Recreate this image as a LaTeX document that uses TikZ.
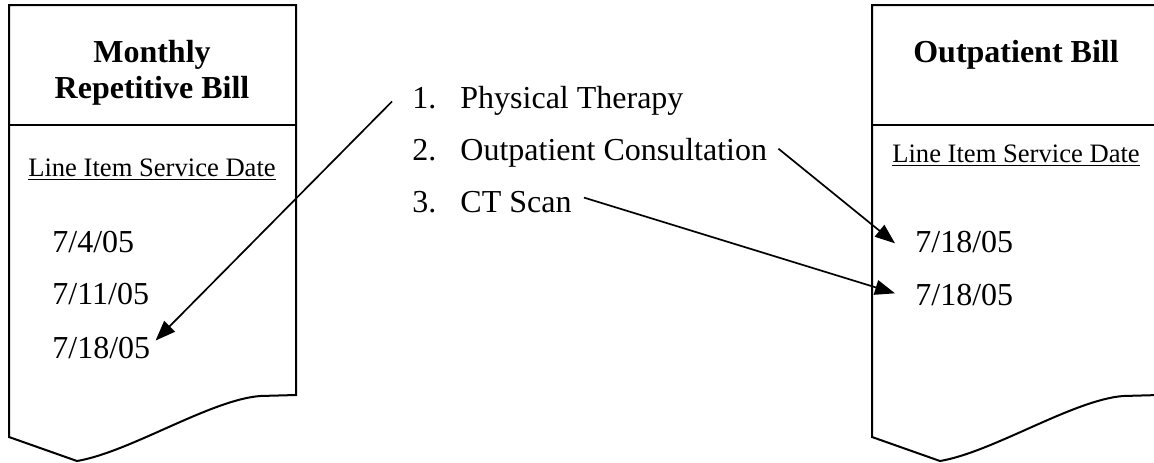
\documentclass[tikz,border=0pt]{standalone}
\usepackage{fontspec}
\setmainfont{Liberation Serif}
\usepackage{tikz}
\usetikzlibrary{arrows.meta,calc,positioning}

\begin{document}
\begin{tikzpicture}[
		x=0.5pt, y=-0.5pt,
		bill/.style={line width=1pt, line join=miter},
		billtitle/.style={font=\fontsize{16pt}{18pt}\selectfont\bfseries, align=center, inner sep=0pt},
		billhead/.style={font=\fontsize{13.3pt}{15pt}\selectfont, inner sep=0pt, anchor=base},
		datetext/.style={font=\fontsize{16pt}{18pt}\selectfont, inner sep=0pt, anchor=base west},
		link/.style={-{Triangle[length=10pt,width=7.5pt]}, line width=0.85pt}
		]
		
		\useasboundingbox (0,0) rectangle (1154,462);
		\clip (0,0) rectangle (1154,462);
		
		% Les deux factures (forme document)
		\foreach \dx in {0,863}{
			\begin{scope}[shift={(\dx,0)}]
				\draw[bill] (9,437) -- (9,5) -- (296,5) -- (296,395) -- (260,396)
				.. controls (210,400) and (130,452) .. (77,461) -- cycle;
				\draw[bill] (9,125) -- (296,125);
			\end{scope}
		}
		
		% Titres
		\node[billtitle] (mtitle) at (152,73) {Monthly\\Repetitive Bill};
		\node[billtitle, anchor=base] (otitle) at (1016,62) {Outpatient Bill};
		\node[billhead] (lhead) at (152,176) {\underline{Line Item Service Date}};
		\node[billhead] (rhead) at (1016,162) {\underline{Line Item Service Date}};
		
		% Les dates
		\node[datetext] (ld1) at (52,252) {7/4/05};
		\node[datetext] (ld2) at (52,304) {7/11/05};
		\node[datetext] (ld3) at (52,358) {7/18/05};
		\node[datetext] (rd1) at (915,252) {7/18/05};
		\node[datetext] (rd2) at (915,305) {7/18/05};
		
		% La liste des services
		\node[datetext] (n1) at (412,108) {1.};
		\node[datetext] (n2) at (412,160) {2.};
		\node[datetext] (n3) at (412,212) {3.};
		\node[datetext] (item1) at (460,108) {Physical Therapy};
		\node[datetext] (item2) at (460,160) {Outpatient Consultation};
		\node[datetext] (item3) at (460,212) {CT Scan};
		
		% Les flèches
		\draw[link] ([xshift=-10pt,yshift=-1.9pt]n1.west) -- ([xshift=2.5pt,yshift=3.5pt]ld3.east);
		\draw[link] ([xshift=5.5pt,yshift=1.8pt]item2.east) -- ([xshift=-10pt,yshift=-0.9pt]rd1.west);
		\draw[link] ([xshift=6pt,yshift=2pt]item3.east) -- ([xshift=-10pt,yshift=0.6pt]rd2.west);
	\end{tikzpicture}
\end{document}
